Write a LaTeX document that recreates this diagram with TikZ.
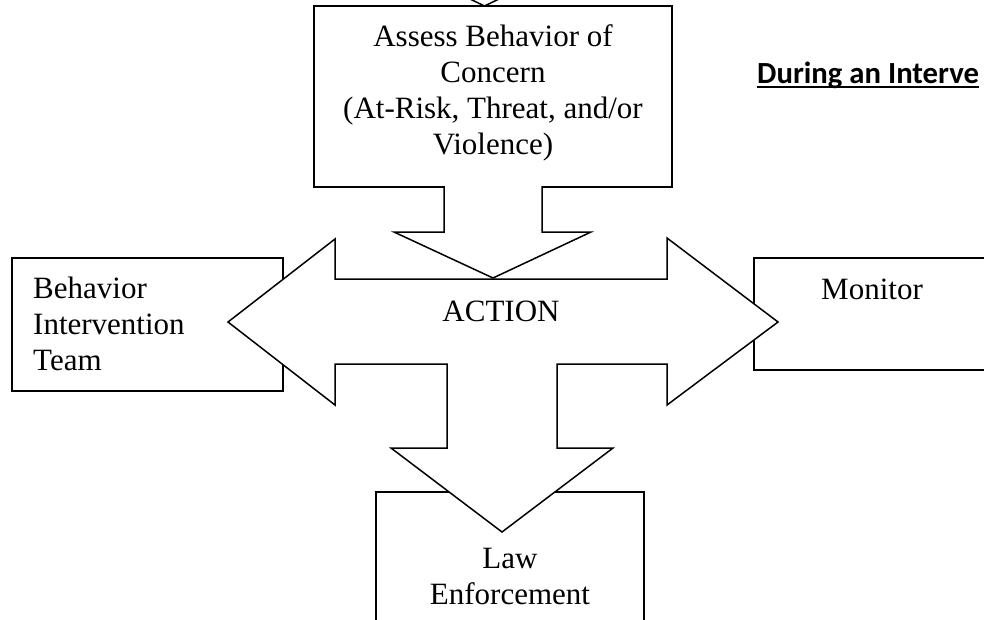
\documentclass[tikz,border=0pt]{standalone}
\usepackage{fontspec}
\setmainfont{Liberation Serif}
\newfontfamily\headfont{Carlito}
\tikzset{>=stealth}

\begin{document}
\begin{tikzpicture}[x=1pt, y=-1pt,
    box/.style={draw, line width=1.5pt},
    bigarrow/.style={draw, fill=white, line width=1.5pt, line join=miter},
    txt/.style={inner sep=0pt, font=\fontsize{31}{36}\selectfont}]
    \useasboundingbox (0,0) rectangle (984,619);
    \clip (0,0) rectangle (984,619);
    % boxes
    \draw[box] (314,6) rectangle (672,187);
    \draw[box] (12,258) rectangle (283,391);
    \draw[box] (754,258) rectangle (1000,370);
    \draw[box] (376,492) rectangle (644,640);
    \draw[box] (470,-1) -- (484.5,6) -- (499,-1);
    % arrows
    \draw[bigarrow] (444,186) -- (444,232) -- (394,232) -- (493,278) -- (591,232) -- (542,232) -- (542,186);
    \draw[bigarrow] (228,322) -- (335,239) -- (335,279) -- (667,279) -- (667,238) -- (778,322)
        -- (667,405) -- (667,364) -- (557,364) -- (557,448) -- (613,448) -- (502,532)
        -- (391,448) -- (447,448) -- (447,364) -- (335,364) -- (335,405) -- cycle;
    % texts
    \node[txt, align=center, anchor=north] (assess) at (493,24) {Assess Behavior of\\Concern\\(At-Risk, Threat, and/or\\Violence)};
    \node[txt, align=left, anchor=north west] (bit) at (33,277) {Behavior\\Intervention\\Team};
    \node[txt, anchor=base] (monitor) at (872,299) {Monitor};
    \node[txt, anchor=base] (action) at (501,321) {ACTION};
    \node[txt, align=center, anchor=north] (law) at (510,548) {Law\\Enforcement};
    \node[anchor=base west, inner sep=0pt, font=\headfont\bfseries\fontsize{30.7}{36}\selectfont] (during) at (757,83) {During an Interve};
    \draw[line width=2pt] ([yshift=-4pt]during.base west) -- ([yshift=-4pt]during.base east);
\end{tikzpicture}
\end{document}
